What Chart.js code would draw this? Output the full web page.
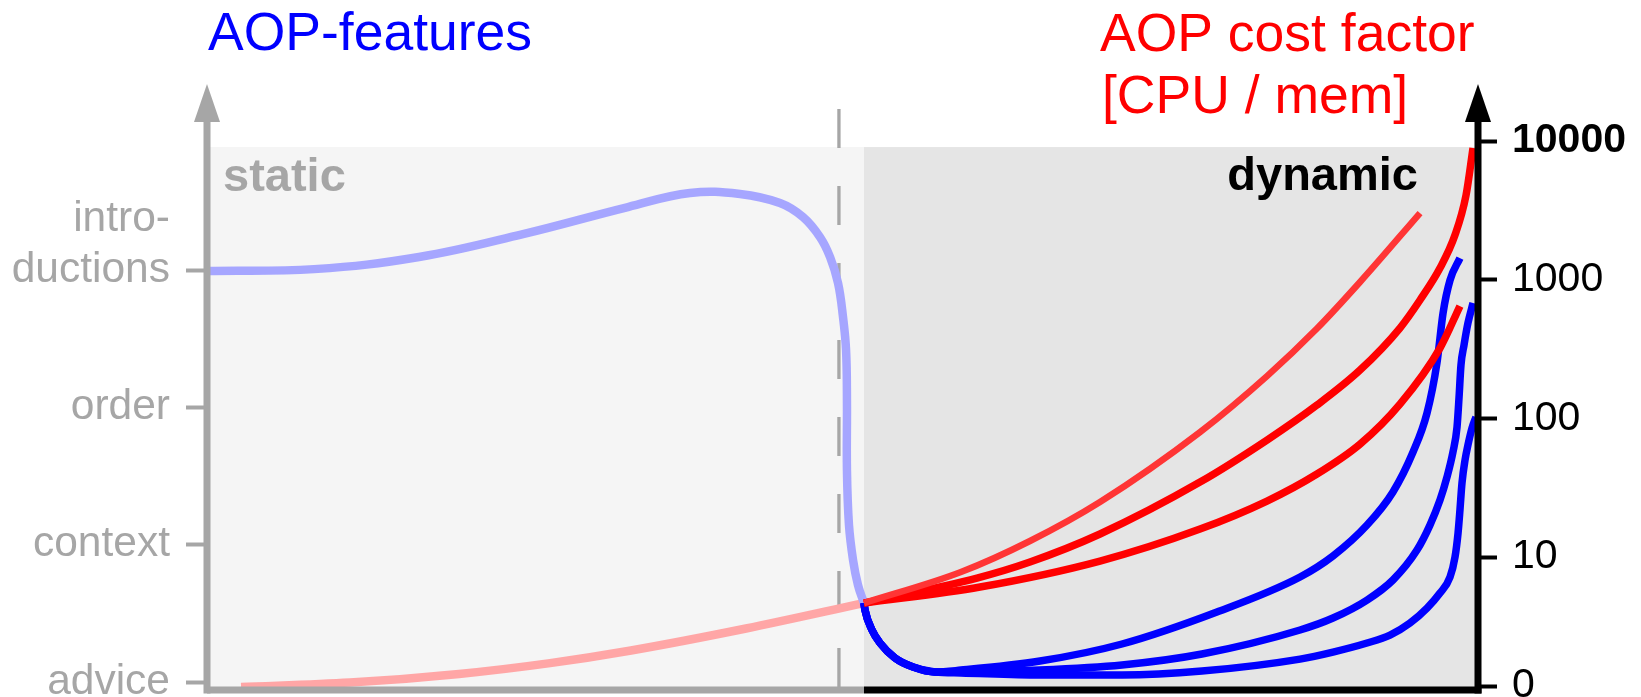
<!DOCTYPE html>
<html>
<head>
<meta charset="utf-8">
<script src="https://cdn.jsdelivr.net/npm/chart.js@4.4.1/dist/chart.umd.min.js"></script>
<style>
  body { margin: 0; background: #fff; }
  #wrap { width: 1641px; height: 697px; }
</style>
</head>
<body>
<div id="wrap"><canvas id="chart"></canvas></div>
<script>
// x = progress from static (0) to dynamic (100), y = feature level (left) / log cost (right)
const featureLevels = [0, 1, 2, 3];
const featureNames = ["advice", "context", "order", ["intro-", "ductions", ""]];
const costLevels = [-0.03, 0.91, 1.92, 2.93, 3.94];
const costNames = ["0", "10", "100", "1000", "10000"];

const staticFeatures = [[0, 2.993], [8.42, 3.007], [16.68, 3.095], [24.86, 3.262], [33.12, 3.459], [38.0, 3.561],
  [41.94, 3.554], [45.08, 3.488], [46.89, 3.386], [48.23, 3.24], [49.02, 3.095], [49.65, 2.905], [50.04, 2.658],
  [50.28, 2.418], [50.35, 2.053], [50.35, 1.544], [50.51, 1.143], [50.83, 0.888], [51.22, 0.706], [51.69, 0.575]];
const staticCost = [[2.68, -0.036], [11.25, -0.004], [19.83, 0.059], [26.99, 0.138], [33.36, 0.23], [42.41, 0.39], [51.69, 0.575]];

const dynamicStart = [[51.69, 0.575], [51.77, 0.524], [52.32, 0.379], [52.95, 0.284], [54.13, 0.175], [55.55, 0.109], [57.28, 0.073]];
const featuresA = [[59.32, 0.087], [65.54, 0.153], [71.99, 0.277], [79.46, 0.51], [86.0, 0.765], [88.59, 0.918], [91.27, 1.143],
  [93.31, 1.384], [94.89, 1.675], [95.99, 1.959], [96.77, 2.323], [97.25, 2.687], [97.8, 2.927], [98.58, 3.087]];
const featuresB = [[59.32, 0.073], [65.54, 0.087], [71.99, 0.124], [78.28, 0.204], [86.0, 0.379], [88.59, 0.466], [91.27, 0.597],
  [93.31, 0.743], [95.2, 0.961], [96.22, 1.143], [97.01, 1.325], [97.56, 1.493], [98.03, 1.675], [98.35, 1.857],
  [98.51, 2.075], [98.66, 2.308], [98.9, 2.454], [99.21, 2.614], [99.61, 2.76]];
const featuresC = [[59.32, 0.066], [65.54, 0.051], [71.99, 0.051], [78.28, 0.08], [86.0, 0.167], [88.59, 0.218], [91.27, 0.284],
  [93.08, 0.342], [94.65, 0.43], [95.99, 0.539], [97.01, 0.648], [97.8, 0.765], [98.19, 0.91], [98.43, 1.085],
  [98.58, 1.252], [98.74, 1.449], [98.98, 1.617], [99.21, 1.726], [99.53, 1.85], [99.84, 1.93]];

const costA = [[51.69, 0.575], [59.32, 0.801], [64.75, 1.027], [70.26, 1.311], [78.13, 1.82], [83.4, 2.228], [87.33, 2.574],
  [90.72, 2.913], [95.44, 3.415]];
const costB = [[51.69, 0.575], [60.58, 0.757], [64.75, 0.874], [70.26, 1.078], [78.13, 1.456], [83.4, 1.762], [87.33, 2.017],
  [90.72, 2.272], [93.86, 2.578], [95.44, 2.782], [97.01, 3.015], [98.19, 3.255], [99.06, 3.546], [99.61, 3.889]];
const costC = [[51.69, 0.575], [60.82, 0.692], [70.26, 0.881], [78.13, 1.114], [83.4, 1.318], [87.33, 1.515], [90.72, 1.733],
  [93.86, 2.024], [97.01, 2.432], [98.58, 2.738]];

const splitAt = 51.69;   // static -> dynamic
const dashAt = 49.72;
const shadeTop = 3.896;

const FONT = "'Liberation Sans', Arial, Helvetica, sans-serif";
const GRAY = "#a6a6a6";
const pts = arr => arr.map(([x, y]) => ({ x, y }));

function curve(data, color, width) {
  return { data: pts(data), borderColor: color, borderWidth: width, pointRadius: 0, cubicInterpolationMode: "monotone", fill: false };
}

const decor = {
  id: "decor",
  beforeDatasetsDraw(chart) {
    const { ctx, chartArea: a, scales: { x, y } } = chart;
    const split = x.getPixelForValue(splitAt);
    const top = y.getPixelForValue(shadeTop);
    ctx.save();
    ctx.fillStyle = "#f5f5f5";
    ctx.fillRect(a.left, top, split - a.left, a.bottom - top);
    ctx.fillStyle = "#e5e5e5";
    ctx.fillRect(split, top, a.right - split, a.bottom - top);

    const dx = x.getPixelForValue(dashAt);
    ctx.strokeStyle = GRAY;
    ctx.lineWidth = 3.3;
    ctx.setLineDash([39, 38]);
    ctx.beginPath();
    ctx.moveTo(dx, 109);
    ctx.lineTo(dx, a.bottom - 3);
    ctx.stroke();
    ctx.setLineDash([]);

    ctx.font = "bold 47px " + FONT;
    ctx.textBaseline = "alphabetic";
    ctx.fillStyle = GRAY;
    ctx.textAlign = "left";
    ctx.fillText("static", 223, 191);
    ctx.fillStyle = "#000";
    ctx.textAlign = "right";
    ctx.fillText("dynamic", 1418, 190);
    ctx.restore();
  },
  afterDatasetsDraw(chart) {
    const { ctx, chartArea: a, scales: { x } } = chart;
    const split = x.getPixelForValue(splitAt);
    ctx.save();
    const axis = (px, color) => {
      ctx.strokeStyle = color;
      ctx.fillStyle = color;
      ctx.lineWidth = 7;
      ctx.beginPath();
      ctx.moveTo(px, a.bottom + 3.5);
      ctx.lineTo(px, 118);
      ctx.stroke();
      ctx.beginPath();
      ctx.moveTo(px, 84);
      ctx.lineTo(px - 13, 122);
      ctx.lineTo(px + 13, 122);
      ctx.closePath();
      ctx.fill();
    };
    axis(a.left, GRAY);
    axis(a.right, "#000");
    ctx.lineWidth = 7;
    ctx.strokeStyle = GRAY;
    ctx.beginPath();
    ctx.moveTo(a.left, a.bottom);
    ctx.lineTo(split, a.bottom);
    ctx.stroke();
    ctx.strokeStyle = "#000";
    ctx.beginPath();
    ctx.moveTo(split, a.bottom);
    ctx.lineTo(a.right + 3.5, a.bottom);
    ctx.stroke();

    ctx.font = "53.5px " + FONT;
    ctx.textAlign = "left";
    ctx.textBaseline = "alphabetic";
    ctx.fillStyle = "#0000ff";
    ctx.fillText("AOP-features", 208, 50);
    ctx.fillStyle = "#ff0000";
    ctx.fillText("AOP cost factor", 1100, 51);
    ctx.fillText("[CPU / mem]", 1102, 113);
    ctx.restore();
  }
};

// the static feature curve turns back on itself in x, so it keeps a plain spline
const staticLine = curve(staticFeatures, "#a6a6ff", 8.5);
delete staticLine.cubicInterpolationMode;
staticLine.tension = 0.4;

new Chart(document.getElementById("chart"), {
  type: "line",
  data: {
    datasets: [
      curve(costA, "#ff3535", 6.5),
      curve(costB, "#ff0000", 7.5),
      curve(costC, "#ff0000", 7.5),
      curve(dynamicStart.concat(featuresA), "#0000ff", 7.5),
      curve(dynamicStart.concat(featuresB), "#0000ff", 7.5),
      curve(dynamicStart.concat(featuresC), "#0000ff", 7.5),
      staticLine,
      curve(staticCost, "#ffa6a6", 8.5)
    ]
  },
  options: {
    responsive: true,
    maintainAspectRatio: false,
    animation: false,
    events: [],
    layout: { padding: { top: 141, bottom: 7, left: 0, right: 0 } },
    plugins: { legend: { display: false }, tooltip: { enabled: false } },
    scales: {
      x: { type: "linear", min: 0, max: 100, display: false },
      y: {
        position: "left",
        min: -0.058,
        max: 3.94,
        afterBuildTicks: s => { s.ticks = featureLevels.map(v => ({ value: v })); },
        afterFit: s => { s.width = 207; s.paddingTop = 0; s.paddingBottom = 0; },
        border: { display: false },
        grid: { drawOnChartArea: false, tickLength: 21, tickWidth: 4, tickColor: GRAY },
        ticks: {
          autoSkip: false,
          padding: 16,
          color: GRAY,
          font: { size: 42.5, family: FONT },
          callback: (v, i) => featureNames[i]
        }
      },
      y2: {
        position: "right",
        min: -0.058,
        max: 3.94,
        afterBuildTicks: s => { s.ticks = costLevels.map(v => ({ value: v })); },
        afterFit: s => { s.width = 163; s.paddingTop = 0; s.paddingBottom = 0; },
        border: { display: false },
        grid: { drawOnChartArea: false, tickLength: 19, tickWidth: 4, tickColor: "#000" },
        ticks: {
          autoSkip: false,
          padding: 15,
          color: "#000",
          font: c => ({ size: 41, family: FONT, weight: c.index === costNames.length - 1 ? "bold" : "normal" }),
          callback: (v, i) => costNames[i]
        }
      }
    }
  },
  plugins: [decor]
});
</script>
</body>
</html>
